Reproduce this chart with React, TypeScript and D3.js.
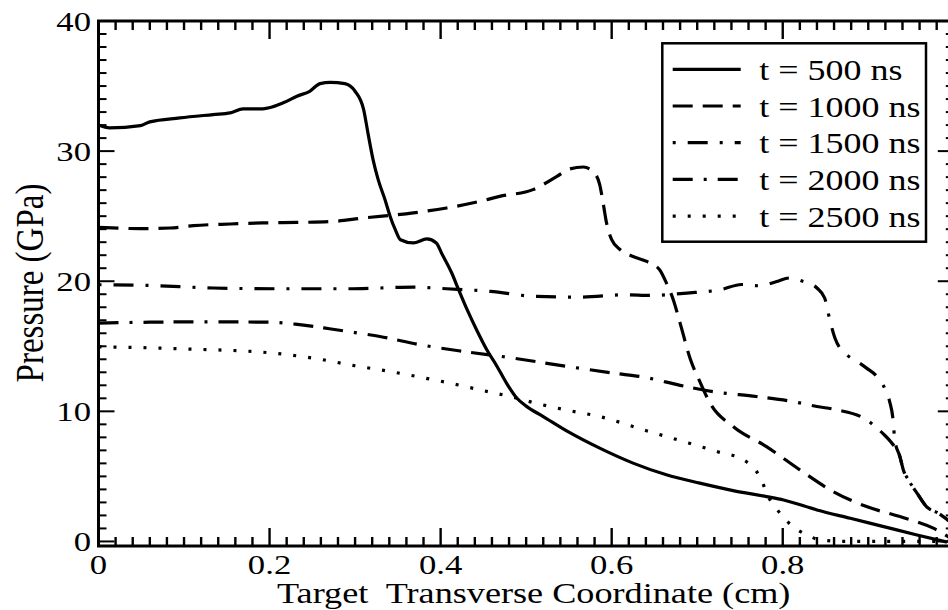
import React from "react";
import * as d3 from "d3";

// Pressure profiles across the target, one series per time step: [coordinate (cm), pressure (GPa)]
const t500: [number, number][] = [
  [0, 32.0], [0.013, 31.78], [0.049, 31.96], [0.06, 32.25], [0.095, 32.55], [0.134, 32.81],
  [0.154, 32.94], [0.169, 33.25], [0.192, 33.25], [0.216, 33.71], [0.232, 34.22], [0.247, 34.6],
  [0.259, 35.19], [0.271, 35.29], [0.288, 35.19], [0.3, 34.6], [0.31, 33.19], [0.315, 31.4],
  [0.321, 29.35], [0.327, 27.81], [0.335, 26.27], [0.341, 24.98], [0.347, 23.96], [0.353, 23.19],
  [0.368, 22.94], [0.384, 23.25], [0.395, 22.94], [0.401, 22.17], [0.413, 20.63], [0.421, 19.35],
  [0.431, 17.81], [0.442, 16.27], [0.454, 14.73], [0.466, 13.45], [0.477, 12.17], [0.489, 11.02],
  [0.5, 10.4], [0.52, 9.6], [0.55, 8.4], [0.586, 7.17], [0.625, 6.02], [0.664, 5.12], [0.703, 4.48],
  [0.742, 3.91], [0.781, 3.45], [0.801, 3.19], [0.84, 2.42], [0.879, 1.78], [0.918, 1.14],
  [0.957, 0.5], [0.992, -0.05],
];

const t1000: [number, number][] = [
  [0, 24.14], [0.049, 24.04], [0.084, 24.09], [0.111, 24.27], [0.154, 24.4], [0.192, 24.48],
  [0.232, 24.52], [0.271, 24.58], [0.31, 24.86], [0.368, 25.25], [0.407, 25.63], [0.446, 26.14],
  [0.469, 26.52], [0.508, 27.04], [0.536, 28.06], [0.551, 28.63], [0.567, 28.78], [0.579, 28.37],
  [0.586, 27.42], [0.59, 26.02], [0.594, 24.48], [0.6, 23.19], [0.61, 22.42], [0.625, 21.9],
  [0.641, 21.52], [0.656, 20.88], [0.664, 19.86], [0.672, 18.58], [0.68, 16.78], [0.692, 14.0],
  [0.703, 12.3], [0.715, 10.63], [0.742, 8.83], [0.781, 7.29], [0.82, 5.5], [0.859, 3.83],
  [0.898, 2.68], [0.937, 1.91], [0.976, 1.02], [1.0, 0.1],
];

const t1500: [number, number][] = [
  [0, 19.73], [0.056, 19.68], [0.134, 19.48], [0.212, 19.42], [0.29, 19.42], [0.329, 19.48],
  [0.368, 19.55], [0.407, 19.42], [0.458, 19.22], [0.512, 18.83], [0.563, 18.78], [0.617, 18.96],
  [0.645, 18.91], [0.688, 19.09], [0.727, 19.35], [0.752, 19.75], [0.773, 19.65], [0.793, 19.98],
  [0.808, 20.25], [0.824, 19.98], [0.84, 19.48], [0.849, 18.71], [0.855, 17.04], [0.861, 15.63],
  [0.875, 14.35], [0.887, 13.83], [0.898, 13.32], [0.91, 12.68], [0.92, 11.65], [0.925, 10.75],
  [0.929, 9.35], [0.931, 7.8], [0.937, 6.52], [0.941, 5.5], [0.947, 4.73], [0.957, 3.71],
  [0.968, 2.68], [0.982, 2.17], [0.993, 1.65], [1.0, 1.3],
];

const t2000: [number, number][] = [
  [0, 16.78], [0.06, 16.85], [0.12, 16.88], [0.2, 16.85], [0.23, 16.7], [0.27, 16.35],
  [0.3, 16.05], [0.329, 15.75], [0.376, 15.12], [0.427, 14.6], [0.485, 14.09], [0.548, 13.45],
  [0.602, 12.94], [0.64, 12.6], [0.68, 12.0], [0.72, 11.5], [0.769, 11.14], [0.812, 10.75],
  [0.84, 10.37], [0.863, 10.12], [0.898, 9.35], [0.917, 8.3], [0.927, 7.6], [0.937, 6.5],
  [0.941, 5.5], [0.947, 4.73], [0.957, 3.71], [0.968, 2.68], [0.982, 2.17], [0.993, 1.65],
  [1.0, 1.3],
];

const t2500: [number, number][] = [
  [0, 14.96], [0.06, 14.88], [0.1, 14.8], [0.2, 14.5], [0.25, 14.1], [0.3, 13.5], [0.341, 13.06],
  [0.376, 12.63], [0.411, 12.17], [0.446, 11.65], [0.481, 11.14], [0.516, 10.55], [0.551, 10.05],
  [0.586, 9.6], [0.637, 8.58], [0.684, 7.68], [0.723, 6.91], [0.754, 6.27], [0.768, 5.5],
  [0.776, 4.6], [0.781, 3.71], [0.791, 2.68], [0.8, 1.91], [0.812, 1.14], [0.828, 0.5],
  [0.844, 0.12], [0.87, 0], [1.0, 0],
];

const seriesLabels = ["t = 500 ns", "t = 1000 ns", "t = 1500 ns", "t = 2000 ns", "t = 2500 ns"];
const seriesData = [t500, t1000, t1500, t2000, t2500];

const xTickLabels = [0, 0.2, 0.4, 0.6, 0.8];
const yTickLabels = [0, 10, 20, 30, 40];

// dash styling per series: [dasharray, offset]
const dashStyles: [string, number][] = [
  ["none", 0],
  ["20 10", 0],
  ["20 12 3 12", 32],
  ["20 10 20 11 3 11", 30],
  ["3 12", 0],
];

const W = 948;
const H = 610;
const SX = 1.24; // horizontal text stretch
const textStyle: React.CSSProperties = {
  fontFamily: '"Liberation Serif", "DejaVu Serif", serif',
};

export default function App() {
  const x = d3.scaleLinear().domain([0, 1]).range([98.5, 953.8]);
  const y = d3.scaleLinear().domain([-0.35, 40]).range([546, 21]);

  const line = d3
    .line<[number, number]>()
    .x((d) => x(d[0]))
    .y((d) => y(d[1]))
    .curve(d3.curveMonotoneX);

  const xMinor = d3.range(0, 51).map((i) => i / 50);
  const yMinor = d3.range(0, 41);

  const left = x(0);
  const right = x(1);
  const top = y(40);
  const bottom = y(-0.35);

  const legendX = 662.3;
  const legendY = 43.3;
  const legendW = 263.7;
  const legendH = 198.4;
  const rowY0 = 69.3;
  const rowStep = 36.7;

  return (
    <svg
      width={W}
      height={H}
      style={{ position: "absolute", left: 0, top: 0, background: "#fff" }}
    >
      <rect x={0} y={0} width={W} height={H} fill="#fff" />
      <defs>
        <clipPath id="plotArea">
          <rect x={left} y={top} width={right - left} height={bottom - top} />
        </clipPath>
      </defs>

      {/* curves */}
      <g clipPath="url(#plotArea)">
        {seriesData.map((d, i) => (
          <path
            key={i}
            d={line(d) || ""}
            fill="none"
            stroke="#000"
            strokeWidth={3.2}
            strokeDasharray={dashStyles[i][0]}
            strokeDashoffset={dashStyles[i][1]}
          />
        ))}
      </g>

      {/* x ticks, bottom and top */}
      {xMinor.map((v, i) => {
        const major = i % 10 === 0;
        const len = major ? 18 : 9;
        const px = x(v);
        return (
          <g key={"xt" + i} stroke="#000" strokeWidth={2.4}>
            <line x1={px} x2={px} y1={bottom} y2={bottom - len} />
            <line x1={px} x2={px} y1={top} y2={top + len} />
          </g>
        );
      })}
      {/* y ticks, left and right */}
      {yMinor.map((v, i) => {
        const major = i % 10 === 0;
        const len = major ? 16 : 8;
        const py = y(v);
        return (
          <g key={"yt" + i} stroke="#000" strokeWidth={2}>
            <line x1={left} x2={left + len} y1={py} y2={py} />
            <line x1={right} x2={right - len} y1={py} y2={py} />
          </g>
        );
      })}

      {/* frame */}
      <rect
        x={left}
        y={top}
        width={right - left}
        height={bottom - top}
        fill="none"
        stroke="#000"
        strokeWidth={3}
      />

      {/* tick labels */}
      {xTickLabels.map((v) => (
        <text
          key={"xl" + v}
          transform={`translate(${x(v)},574) scale(${SX},1)`}
          textAnchor="middle"
          fontSize={28}
          fill="#000"
          style={textStyle}
        >
          {v === 0 ? "0" : v.toFixed(1)}
        </text>
      ))}
      {yTickLabels.map((v) => (
        <text
          key={"yl" + v}
          transform={`translate(91,${y(v) + 10}) scale(${SX},1)`}
          textAnchor="end"
          fontSize={28}
          fill="#000"
          style={textStyle}
        >
          {v}
        </text>
      ))}

      {/* axis titles */}
      <text
        transform={`translate(277,603) scale(${SX},1)`}
        fontSize={29.2}
        fill="#000"
        style={{ ...textStyle, whiteSpace: "pre" }}
      >
        {"Target  Transverse Coordinate (cm)"}
      </text>
      <text
        transform={`translate(43,283) scale(${SX},1) rotate(-90)`}
        textAnchor="middle"
        fontSize={33}
        fill="#000"
        style={textStyle}
      >
        Pressure (GPa)
      </text>

      {/* legend */}
      <rect
        x={legendX}
        y={legendY}
        width={legendW}
        height={legendH}
        fill="#fff"
        stroke="#000"
        strokeWidth={2.5}
      />
      {seriesLabels.map((label, i) => {
        const ry = rowY0 + i * rowStep;
        return (
          <g key={"lg" + i}>
            <line
              x1={672.7}
              x2={740.7}
              y1={ry}
              y2={ry}
              stroke="#000"
              strokeWidth={3.2}
              strokeDasharray={dashStyles[i][0]}
              strokeDashoffset={dashStyles[i][1]}
            />
            <text
              transform={`translate(759.3,${ry + 10.7}) scale(${SX},1)`}
              fontSize={29}
              fill="#000"
              style={textStyle}
            >
              {label}
            </text>
          </g>
        );
      })}
    </svg>
  );
}
